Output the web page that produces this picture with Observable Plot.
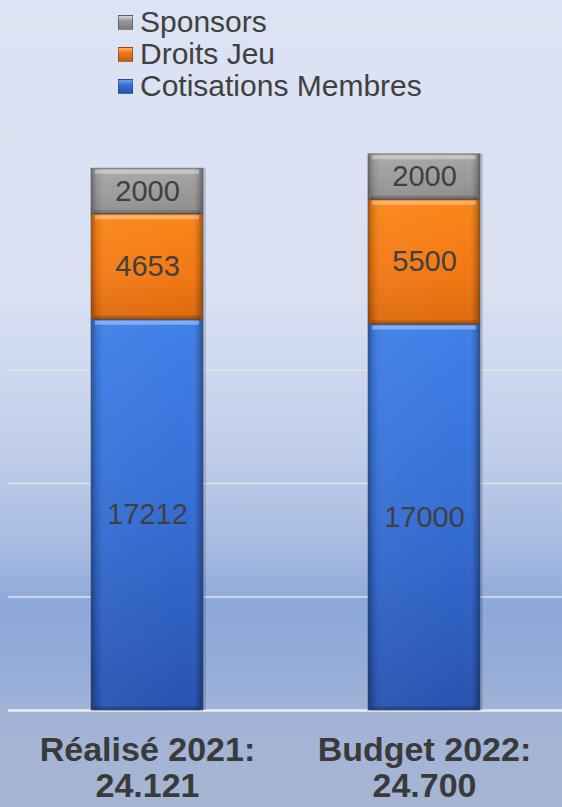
<!DOCTYPE html>
<html>
<head>
<meta charset="utf-8">
<script src="https://cdn.jsdelivr.net/npm/d3@7"></script>
<script src="https://cdn.jsdelivr.net/npm/@observablehq/plot@0.6"></script>
<style>
  html, body { margin: 0; padding: 0; }
  #wrap {
    position: relative; width: 562px; height: 807px; overflow: hidden;
    font-family: "Liberation Sans", Arial, sans-serif;
    background: linear-gradient(to bottom,
      #dce3f4 0%, #d8e0f2 37%, #c2cfeb 55%, #a7bbe1 68%, #8ea8db 75%,
      #94acd9 82%, #a1b3d6 88%, #a6b5d3 100%);
  }
  #legend { position: absolute; left: 118px; top: 6px; }
  .row { display: flex; align-items: center; height: 32px; font-size: 30px; color: #404040; }
  .sw { width: 15px; height: 15px; margin-right: 7px; box-sizing: border-box; border: 1px solid rgba(60,60,60,0.5); }
</style>
</head>
<body>
<div id="wrap"><div id="legend"></div></div>
<script>
// ---- data ----
const categories = ["Réalisé 2021:", "Budget 2022:"];
const totalLabels = ["24.121", "24.700"];
const series = ["Cotisations Membres", "Droits Jeu", "Sponsors"];
const cotisations = [17212, 17000];
const droitsJeu = [4653, 5500];
const sponsors = [2000, 2000];
const yTicks = [5000, 10000, 15000, 20000, 25000, 30000];
const legendOrder = ["Sponsors", "Droits Jeu", "Cotisations Membres"];

const valuesBySeries = [cotisations, droitsJeu, sponsors];
const rows = [];
categories.forEach((c, i) => {
  series.forEach((s, j) => rows.push({cat: c, series: s, value: valuesBySeries[j][i]}));
});

const fills = ["url(#gBlue)", "url(#gOrange)", "url(#gGrey)"];
const swatchCss = {
  "Cotisations Membres": "linear-gradient(to bottom, #6aa0f2 0%, #3a74d8 35%, #2450a8 100%)",
  "Droits Jeu": "linear-gradient(to bottom, #ffb060 0%, #f07a16 35%, #c85d08 100%)",
  "Sponsors": "linear-gradient(to bottom, #d8d8d8 0%, #9a9a9a 35%, #7a7a7a 100%)"
};

const stackOpts = {x: "cat", y: "value", z: "series"};

const chart = Plot.plot({
  width: 562,
  height: 807,
  marginTop: 29,
  marginBottom: 97,
  marginLeft: 8,
  marginRight: 0,
  style: {background: "transparent", overflow: "visible", fontFamily: "'Liberation Sans', Arial, sans-serif"},
  x: {domain: categories, paddingInner: 0.597, paddingOuter: 0.295, axis: null},
  y: {domain: [0, 30000], axis: null},
  color: {domain: series, range: fills},
  marks: [
    Plot.ruleY(yTicks, {stroke: "#e2e2e2", strokeWidth: 1.5}),
    Plot.ruleY([0], {stroke: "#ececec", strokeWidth: 2.5}),
    // soft shadow
    Plot.barY(rows, Plot.stackY({...stackOpts, fill: "#1a2a50", fillOpacity: 0.18, dx: 3})),
    // main segments
    Plot.barY(rows, Plot.stackY({...stackOpts, fill: "series"})),
    // side bevel overlay
    Plot.barY(rows, Plot.stackY({...stackOpts, fill: "url(#gSide)", stroke: "#4a4a4a", strokeOpacity: 0.55, strokeWidth: 1})),
    // top highlight
    Plot.tickY(rows, Plot.stackY2({...stackOpts, stroke: "white", strokeOpacity: 0.35, strokeWidth: 4, dy: 3, insetLeft: 4, insetRight: 4})),
    // bottom dark edge
    Plot.tickY(rows, Plot.stackY1({...stackOpts, stroke: "black", strokeOpacity: 0.18, strokeWidth: 4, dy: -2, insetLeft: 3, insetRight: 3})),
    // value labels
    Plot.text(rows, Plot.stackY({...stackOpts, text: d => String(d.value), fontSize: 29, fill: "#404040"})),
    // category labels
    Plot.text(categories, {
      x: d => d, y: () => 0,
      text: (d, i) => d + "\n" + totalLabels[i],
      lineAnchor: "top", dy: 24, lineHeight: 1.08,
      fontSize: 34, fontWeight: "bold", fill: "#3a3a3a"
    })
  ]
});

const defs = document.createElementNS("http://www.w3.org/2000/svg", "defs");
defs.innerHTML = `
  <linearGradient id="gBlue" x1="0" y1="0" x2="0" y2="1">
    <stop offset="0" stop-color="#3f80e8"/>
    <stop offset="0.5" stop-color="#356dd4"/>
    <stop offset="1" stop-color="#2853b0"/>
  </linearGradient>
  <linearGradient id="gOrange" x1="0" y1="0" x2="0" y2="1">
    <stop offset="0" stop-color="#fb8618"/>
    <stop offset="0.6" stop-color="#f27814"/>
    <stop offset="1" stop-color="#dc690c"/>
  </linearGradient>
  <linearGradient id="gGrey" x1="0" y1="0" x2="0" y2="1">
    <stop offset="0" stop-color="#a8a8a8"/>
    <stop offset="1" stop-color="#8e8e8e"/>
  </linearGradient>
  <linearGradient id="gSide" x1="0" y1="0" x2="1" y2="0">
    <stop offset="0" stop-color="#000" stop-opacity="0.32"/>
    <stop offset="0.05" stop-color="#000" stop-opacity="0.08"/>
    <stop offset="0.12" stop-color="#fff" stop-opacity="0.04"/>
    <stop offset="0.88" stop-color="#fff" stop-opacity="0.0"/>
    <stop offset="0.95" stop-color="#000" stop-opacity="0.1"/>
    <stop offset="1" stop-color="#000" stop-opacity="0.35"/>
  </linearGradient>`;
chart.insertBefore(defs, chart.firstChild);

document.getElementById("wrap").appendChild(chart);
chart.style.position = "absolute";
chart.style.left = "0";
chart.style.top = "0";

const legend = document.getElementById("legend");
document.getElementById("wrap").appendChild(legend);
legendOrder.forEach(s => {
  const row = document.createElement("div");
  row.className = "row";
  const sw = document.createElement("span");
  sw.className = "sw";
  sw.style.background = swatchCss[s];
  const t = document.createElement("span");
  t.textContent = s;
  row.appendChild(sw);
  row.appendChild(t);
  legend.appendChild(row);
});
</script>
</body>
</html>
